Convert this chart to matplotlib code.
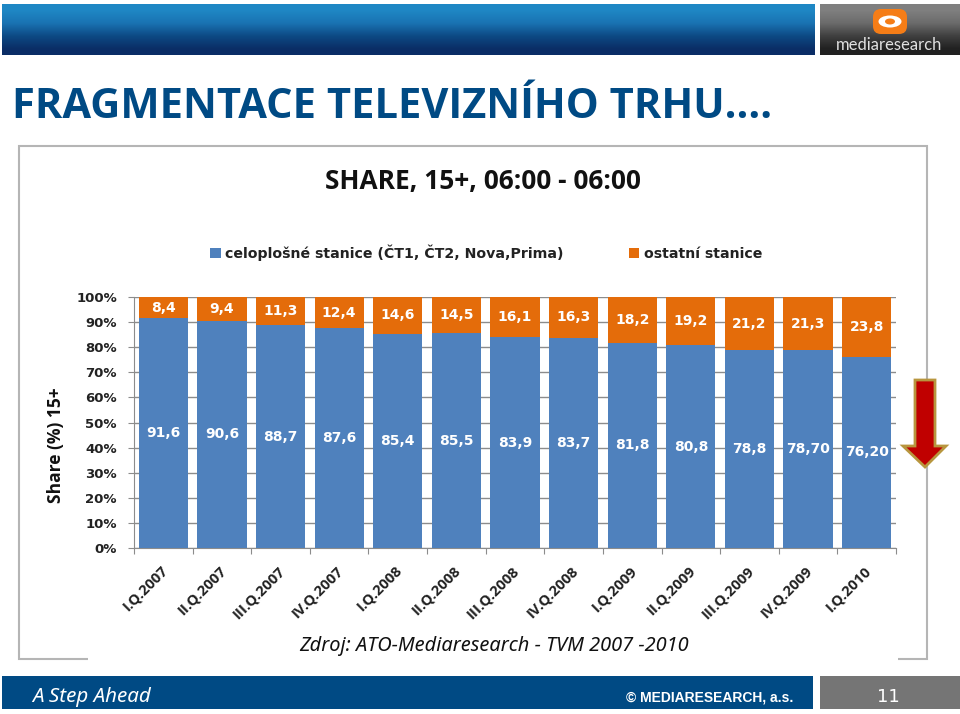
import matplotlib
matplotlib.use("Agg")
import matplotlib.pyplot as plt
import numpy as np
from matplotlib.patches import Rectangle, Polygon, FancyBboxPatch, Ellipse

# dados
kvartaly = ["I.Q.2007", "II.Q.2007", "III.Q.2007", "IV.Q.2007", "I.Q.2008", "II.Q.2008", "III.Q.2008",
            "IV.Q.2008", "I.Q.2009", "II.Q.2009", "III.Q.2009", "IV.Q.2009", "I.Q.2010"]
celoplosne = [91.6, 90.6, 88.7, 87.6, 85.4, 85.5, 83.9, 83.7, 81.8, 80.8, 78.8, 78.7, 76.2]
ostatni = [8.4, 9.4, 11.3, 12.4, 14.6, 14.5, 16.1, 16.3, 18.2, 19.2, 21.2, 21.3, 23.8]
popisky_cel = ["91,6", "90,6", "88,7", "87,6", "85,4", "85,5", "83,9", "83,7", "81,8", "80,8", "78,8", "78,70", "76,20"]
popisky_ost = ["8,4", "9,4", "11,3", "12,4", "14,6", "14,5", "16,1", "16,3", "18,2", "19,2", "21,2", "21,3", "23,8"]
procenta = [0, 10, 20, 30, 40, 50, 60, 70, 80, 90, 100]

W, H = 960, 714
MODRA = "#4F81BD"
ORANZOVA = "#E46C0A"
TMAVE_MODRA = "#004A84"

fig = plt.figure(figsize=(W / 100, H / 100), dpi=100, facecolor="white")

# pozadi slidu v pixelech
bg = fig.add_axes([0, 0, 1, 1])
bg.set_xlim(0, W)
bg.set_ylim(H, 0)
bg.axis("off")

# hlavicka s prechodem
modry = np.array([[[0.12, 0.53, 0.77]], [[0.10, 0.45, 0.70]], [[0.05, 0.29, 0.52]], [[0.04, 0.18, 0.40]]])
bg.imshow(modry, extent=[2, 815, 55, 4], aspect="auto", interpolation="bilinear", zorder=1)
sedy = np.array([[[0.50, 0.50, 0.50]], [[0.42, 0.42, 0.42]], [[0.25, 0.25, 0.25]], [[0.13, 0.13, 0.13]]])
bg.imshow(sedy, extent=[820, 960, 55, 4], aspect="auto", interpolation="bilinear", zorder=1)
bg.set_xlim(0, W)
bg.set_ylim(H, 0)

# logo
bg.add_patch(FancyBboxPatch((878, 14), 24, 15, boxstyle="round,pad=5,rounding_size=8", lw=0, fc="#F57D17", zorder=2))
bg.add_patch(Ellipse((890, 21.5), 23, 12, fc="white", lw=0, zorder=3))
bg.add_patch(Ellipse((890, 21.5), 10, 6, fc="#F57D17", lw=0, zorder=4))
bg.text(889, 45, "mediaresearch", color="#E0E0E0", fontsize=12, family="Lato", ha="center",
        va="center", zorder=3)

# nadpis
bg.text(12, 107, "FRAGMENTACE TELEVIZNÍHO TRHU….", color=TMAVE_MODRA, fontsize=30, fontweight="bold",
        family="Open Sans", ha="left", va="center", zorder=3)

# ramecek grafu
bg.add_patch(Rectangle((18.5, 146), 908.5, 513, fc="white", ec="#B5B5B5", lw=1.5, zorder=1))
bg.add_patch(Rectangle((88, 640), 810, 22, fc="white", lw=0, zorder=2))

bg.text(483, 182, "SHARE, 15+, 06:00 - 06:00", color="#111111", fontsize=18.9, fontweight="bold",
        family="Open Sans", ha="center", va="center", zorder=3)
bg.text(56.5, 445, "Share (%) 15+", color="#111111", fontsize=12.5, fontweight="bold", family="Open Sans",
        rotation=90, ha="center", va="center", zorder=3)
bg.text(494, 646, "Zdroj: ATO-Mediaresearch - TVM 2007 -2010", color="#111111", fontsize=14.4, style="italic",
        family="Noto Sans", ha="center", va="center", zorder=3)

# sipka
bg.add_patch(Polygon([(915, 380), (935, 380), (935, 446), (946, 446), (925, 467), (903, 446), (915, 446)],
                     closed=True, fc="#C00000", ec="#B8963E", lw=2, zorder=3))

# paticka
bg.add_patch(Rectangle((2, 676), 811, 33, fc=TMAVE_MODRA, lw=0, zorder=1))
bg.add_patch(Rectangle((820, 676), 140, 33, fc="#757575", lw=0, zorder=1))
bg.text(32, 697, "A Step Ahead", color="white", fontsize=14.8, style="italic", family="Noto Sans",
        ha="left", va="center", zorder=3)
bg.text(793, 697, "© MEDIARESEARCH, a.s.", color="white", fontsize=10, fontweight="bold", family="Liberation Sans",
        ha="right", va="center", zorder=3)
bg.text(888, 697, "11", color="white", fontsize=13, family="DejaVu Sans", ha="center", va="center", zorder=3)

# graf
ax = fig.add_axes([134 / W, 1 - 548 / H, (896 - 134) / W, (548 - 297) / H])
ax.patch.set_alpha(0)
x = np.arange(len(kvartaly))
b1 = ax.bar(x, celoplosne, width=0.84, color=MODRA, label="celoplošné stanice (ČT1, ČT2, Nova,Prima)", zorder=3)
b2 = ax.bar(x, ostatni, width=0.84, bottom=celoplosne, color=ORANZOVA, label="ostatní stanice", zorder=3)
ax.bar_label(b1, labels=popisky_cel, label_type="center", color="white", fontsize=10, fontweight="bold")
ax.bar_label(b2, labels=popisky_ost, label_type="center", color="white", fontsize=10, fontweight="bold")

ax.set_xlim(-0.5, len(kvartaly) - 0.5)
ax.set_ylim(0, 100)
ax.set_yticks(procenta)
ax.set_yticklabels([f"{p}%" for p in procenta], fontsize=9.5, fontweight="bold", color="#222222")
ax.set_xticks(list(x - 0.5) + [len(kvartaly) - 0.5])
ax.set_xticklabels([""] * (len(kvartaly) + 1))
ax.grid(axis="y", color="#8C8C8C", lw=1, zorder=0)
ax.tick_params(axis="y", length=4.3, color="#8C8C8C", pad=8)
ax.tick_params(axis="x", length=4, color="#8C8C8C")
for s in ["top", "right"]:
    ax.spines[s].set_visible(False)
for s in ["left", "bottom"]:
    ax.spines[s].set_color("#8C8C8C")

for i, nazev in enumerate(kvartaly):
    ax.annotate(nazev, xy=(i, 0), xycoords=("data", "axes fraction"), xytext=(-2, -11), textcoords="offset points",
                rotation=45, rotation_mode="anchor", ha="right", va="top", fontsize=10.6, fontweight="bold",
                family="Open Sans", color="#222222")

leg = fig.legend(loc="center", bbox_to_anchor=(486 / W, 1 - 253 / H), ncol=2, frameon=False,
                 handlelength=0.75, handleheight=0.75, handletextpad=0.3, columnspacing=4.6,
                 prop={"weight": "bold", "size": 10.2})
for t in leg.get_texts():
    t.set_color("#222222")

fig.savefig("out.png", dpi=100)
